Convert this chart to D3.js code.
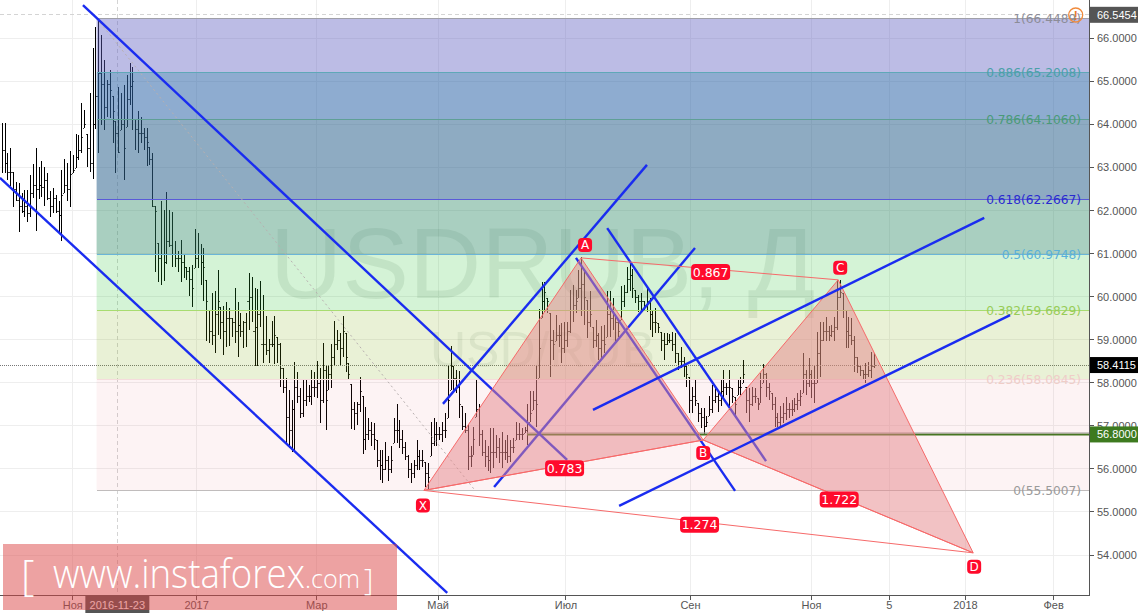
<!DOCTYPE html>
<html><head><meta charset="utf-8">
<style>html,body{margin:0;padding:0;background:#fff;overflow:hidden}svg{display:block}</style>
<script src="https://cdn.jsdelivr.net/npm/d3@7"></script></head><body>
<div id="c"></div>
<script>
const highs=[64.03,64.03,63.33,63.45,62.89,62.66,62.63,62.40,62.48,62.48,62.83,63.08,63.45,63.00,63.14,63.02,62.87,62.46,62.52,62.36,62.21,62.94,63.20,63.10,63.38,63.29,63.78,63.76,64.49,64.34,63.78,64.72,65.77,66.26,66.46,66.08,65.50,65.03,65.26,64.65,64.09,64.86,64.72,64.92,65.15,65.42,65.34,64.12,64.30,64.18,63.91,63.91,63.48,63.33,
62.11,61.24,62.22,62.01,62.42,62.01,61.97,61.29,61.05,61.32,60.97,60.70,60.70,60.74,61.57,61.47,61.22,61.12,60.39,59.69,60.08,60.12,60.62,59.77,59.78,59.87,59.73,59.50,60.20,59.87,59.61,59.44,59.63,60.54,60.45,60.20,60.17,60.37,60.04,59.55,59.02,59.44,59.55,59.06,58.92,58.34,58.11,57.83,57.60,58.48,58.26,57.87,
58.07,58.07,57.95,58.30,58.26,58.51,58.34,58.93,58.38,58.38,58.89,59.44,59.23,59.15,59.55,59.15,58.45,57.97,57.56,57.56,58.14,57.70,57.43,57.18,57.10,57.06,56.66,56.44,56.44,56.63,56.30,56.52,57.18,57.50,57.14,56.90,56.63,56.33,56.13,56.21,56.66,56.44,56.44,56.17,56.13,57.10,57.19,57.10,56.98,57.08,57.29,58.40,58.85,58.38,58.30,58.28,57.45,57.29,57.02,56.52,56.98,58.07,57.50,56.90,56.67,56.52,56.94,56.94,56.79,56.71,56.86,56.67,56.79,56.67,56.71,57.08,57.06,56.94,56.98,57.50,57.81,57.81,58.40,59.71,60.35,60.35,59.96,59.61,59.23,59.58,59.34,59.38,59.42,59.42,60.16,60.27,60.16,60.62,60.91,60.62,59.92,60.12,59.30,59.46,59.15,
59.31,59.33,60.14,60.13,59.96,59.60,59.46,60.25,60.27,60.70,60.81,60.64,60.16,60.04,60.08,59.91,60.20,59.96,59.69,59.73,59.38,59.17,59.15,59.15,59.13,59.19,59.15,58.69,58.83,58.61,58.38,58.14,57.90,58.07,57.53,57.41,57.41,57.22,57.70,57.95,57.91,57.83,58.07,58.30,57.99,58.30,57.87,57.68,58.07,58.14,58.52,57.91,57.87,57.91,57.87,57.64,58.22,58.43,58.22,57.99,57.76,57.68,57.29,57.45,57.53,57.66,57.53,57.60,57.64,57.76,57.83,58.69,58.30,58.57,58.30,58.42,59.19,59.42,59.40,59.52,59.32,59.34,59.52,60.39,60.39,60.08,59.69,59.52,59.50,59.09,58.61,58.42,58.30,58.45,58.49,58.72,58.69];
const lows=[62.87,62.87,62.71,62.56,62.08,62.21,61.51,61.94,61.86,61.74,61.86,62.28,61.53,62.26,62.32,62.11,62.25,61.86,61.94,61.95,61.51,61.30,62.40,62.21,62.09,62.87,62.98,63.17,63.33,63.91,63.00,62.90,62.73,63.89,63.33,63.99,63.86,64.18,64.16,63.56,62.87,63.33,63.86,62.71,63.95,64.45,63.87,63.41,63.33,63.56,63.41,63.04,63.06,62.09,
60.58,60.35,60.26,60.37,60.76,61.16,60.68,60.68,60.58,60.33,60.43,60.39,60.02,59.77,60.66,60.66,60.27,59.89,58.98,58.93,58.88,58.70,59.11,59.01,58.65,58.84,58.86,59.07,58.92,58.61,59.06,58.80,58.84,59.23,59.42,58.38,58.38,59.30,58.45,58.65,58.47,58.83,58.43,58.45,57.91,57.76,56.60,56.48,56.40,56.40,57.52,57.18,
57.20,57.46,57.56,57.49,57.68,57.64,57.06,57.52,56.90,57.83,57.87,58.38,58.76,58.38,58.61,58.26,58.07,56.92,56.90,57.02,57.33,56.35,56.44,56.67,56.52,56.44,56.05,55.74,55.67,55.98,55.71,55.90,56.60,56.61,56.48,56.35,56.21,55.78,55.67,55.78,55.98,55.98,56.05,55.57,55.51,56.29,56.52,56.52,56.67,56.63,56.71,57.18,57.83,57.79,57.76,57.19,56.90,56.83,55.98,56.05,56.33,57.21,56.52,56.29,56.05,55.94,55.91,56.01,56.25,56.13,56.01,56.21,56.13,56.17,56.36,56.67,56.67,56.67,56.83,56.56,57.10,57.37,56.98,58.10,59.50,59.65,59.61,58.13,58.53,58.96,58.84,58.45,58.69,58.84,59.15,59.42,59.61,59.96,59.54,59.34,59.03,59.30,58.80,58.84,58.53,
58.53,58.69,59.07,59.07,59.23,58.96,59.07,59.46,59.77,60.08,60.12,59.96,59.85,59.65,59.69,59.69,59.65,59.23,59.07,59.15,59.15,58.73,58.53,58.88,58.92,58.73,58.45,58.30,58.34,58.13,57.91,57.29,57.29,57.45,57.10,56.94,56.81,56.98,57.22,57.29,57.53,57.33,57.45,57.64,57.72,57.37,57.53,57.18,57.72,57.72,57.99,57.29,57.10,57.45,57.53,57.37,57.53,57.99,57.68,57.60,57.37,56.98,56.98,56.98,57.06,57.14,57.18,57.22,57.33,57.37,57.45,57.76,57.72,57.91,57.64,57.53,57.99,58.14,58.96,58.96,58.96,59.07,58.96,59.23,59.96,59.50,58.80,58.80,58.88,58.24,58.22,58.16,58.07,57.99,58.14,58.11,58.34];
const closes=[63.4,63.1,62.9,62.9,62.5,62.25,62.1,62.0,62.1,61.95,62.4,62.6,62.5,62.6,62.55,62.7,62.3,62.1,62.3,62.0,61.9,62.35,62.6,62.5,62.85,62.95,63.25,63.4,63.7,64.0,63.45,63.1,64.0,64.65,65.2,64.95,64.4,64.95,64.8,64.3,63.8,63.35,64.0,63.45,64.6,64.9,65.0,63.9,63.8,63.8,63.7,63.6,63.2,62.1,
62.0,60.9,61.0,60.8,61.3,61.2,61.0,60.9,60.9,60.8,60.7,60.6,60.4,60.2,60.9,61.0,60.8,60.7,59.9,59.2,59.1,59.6,59.9,59.4,59.2,59.5,59.5,59.4,59.2,59.35,59.2,59.4,59.9,60.0,59.2,59.3,59.6,58.9,58.9,58.75,58.9,58.9,59.1,58.9,58.35,57.9,57.2,56.9,57.4,57.9,57.7,57.3,
57.6,57.7,57.7,57.9,57.9,58.0,57.6,58.3,57.6,58.2,58.6,58.9,59.0,58.8,59.2,58.6,58.2,57.4,57.3,57.5,57.8,56.7,56.8,56.9,56.8,56.7,56.2,56.1,56.0,56.2,56.0,56.2,56.9,56.9,56.7,56.5,56.3,56.0,55.9,56.1,56.3,56.2,56.2,55.9,55.8,56.6,56.8,56.8,56.8,56.9,56.9,57.6,58.4,58.1,57.9,57.5,57.0,56.9,56.3,56.3,56.7,57.4,56.8,56.4,56.3,56.2,56.4,56.4,56.5,56.4,56.4,56.4,56.3,56.5,56.5,56.8,56.8,56.8,56.9,56.8,57.3,57.6,57.5,58.8,59.9,60.1,59.9,59.0,58.9,59.1,59.1,58.8,59.0,59.2,59.7,59.8,59.9,60.2,60.3,60.0,59.4,59.6,59.0,59.1,58.8,
59.0,58.9,59.6,59.5,59.6,59.4,59.2,59.9,60.1,60.4,60.5,60.2,60.0,59.9,59.9,59.8,59.9,59.6,59.4,59.4,59.3,59.0,58.9,59.0,59.0,58.9,58.7,58.5,58.5,58.4,58.2,57.6,57.7,57.6,57.3,57.2,57.0,57.1,57.4,57.6,57.7,57.6,57.8,57.9,57.9,57.9,57.7,57.5,57.9,57.9,58.2,57.6,57.5,57.7,57.7,57.5,57.9,58.2,57.9,57.8,57.5,57.2,57.1,57.2,57.3,57.4,57.4,57.4,57.5,57.6,57.7,58.2,58.0,58.2,58.0,58.0,58.7,59.0,59.2,59.2,59.1,59.2,59.3,60.0,60.1,59.7,59.2,59.1,59.0,58.6,58.4,58.3,58.2,58.2,58.3,58.4,58.41];

const yTicks=[54,55,56,57,58,59,60,61,62,63,64,65,66];
const xTickBars=[25,68.6,110.9,153.6,198.6,242.4,285,312.4,339.2,370.2];
const xTickLabels=["Ноя","2017","Мар","Май","Июл","Сен","Ноя","5","2018","Фев"];
const crossBar=40.7, crossPrice=66.5454, crossDate="2016-11-23";
const lastPrice=58.4115, levelPrice=56.8;

const fibRatios=["1","0.886","0.786","0.618","0.5","0.382","0.236","0"];
const fibPrices=[66.4489,65.2008,64.1060,62.2667,60.9748,59.6829,58.0845,55.5007];
const fibFills=["rgba(96,96,193,.42)","rgba(50,104,170,.55)","rgba(50,102,144,.55)","rgba(50,140,105,.42)","rgba(40,195,50,.2)","rgba(126,173,14,.17)","rgba(222,55,72,.06)"];
const fibLines=["#a0a0a8","#5fa8b8","#5f9f96","#5a5ad8","#6bb5d8","#a8dc70","#f5dcdc","#c0bcbc"];
const fibText=["#8c8c98","#4aa0a8","#4a9a78","#2a2ad0","#5ab0d8","#98cc58","#efcdc8","#9a9a9a"];
const fibLeftBar=33.4, fibTrend=[[33.6,66.45],[166.6,55.5]];

const patternNames=["X","A","B","C","D"];
const patternBars=[148.6,203.9,246.9,294.4,341.9];
const patternPrices=[55.5,60.9,56.67,60.39,54.05];
const ratioLinks=[[0,2,"0.783"],[1,3,"0.867"],[2,4,"1.722"],[0,4,"1.274"]];

const trendBarsUnder=[[28.6,199],[-0.6,156.8],[155.3,227.1],[173.3,244],[202.1,258.1],[213.1,269]];
const trendPricesUnder=[[66.77,56.21],[62.76,53.12],[57.51,63.06],[55.58,61.13],[60.9,55.49],[61.59,56.18]];
const trendBarsOver=[[208.1,345.8],[217.3,354.9]];
const trendPricesOver=[[57.37,61.83],[55.14,59.57]];

const W=1138,H=613,axisX=1089.5,axisY=595.5;
const x=d3.scaleLinear().domain([0,307]).range([1.7,874]);
const y=d3.scaleLinear().domain([66,54]).range([38.3,555]);
const svg=d3.select("#c").append("svg").attr("width",W).attr("height",H);
const AX='"Liberation Sans",Arial,sans-serif', DV='"DejaVu Sans",sans-serif';

// grid
const g=svg.append("g").attr("shape-rendering","crispEdges");
g.selectAll(".gy").data(yTicks).join("line").attr("x1",0).attr("x2",axisX).attr("y1",d=>y(d)).attr("y2",d=>y(d)).attr("stroke","#eeeeee");
g.selectAll(".gx").data(xTickBars).join("line").attr("x1",d=>x(d)).attr("x2",d=>x(d)).attr("y1",0).attr("y2",axisY).attr("stroke","#eeeeee");

// crosshair
svg.append("line").attr("x1",x(crossBar)).attr("x2",x(crossBar)).attr("y1",0).attr("y2",axisY).attr("stroke","#d4d4d4").attr("stroke-dasharray","4 3").attr("shape-rendering","crispEdges");
svg.append("line").attr("x1",0).attr("x2",axisX).attr("y1",y(crossPrice)).attr("y2",y(crossPrice)).attr("stroke","#d4d4d4").attr("stroke-dasharray","4 3").attr("shape-rendering","crispEdges");

// watermarks
svg.append("text").attr("x",270).attr("y",298).attr("font-family",AX).attr("font-size",100).attr("fill","rgba(0,40,10,.085)").text("USDRUB, Д");
svg.append("text").attr("x",430).attr("y",367).attr("font-family",AX).attr("font-size",50).attr("fill","rgba(0,40,10,.07)").text("USD/RUB");

// OHLC bars
const bars=svg.append("g").attr("stroke","#000").attr("shape-rendering","crispEdges");
highs.forEach((h,i)=>{
  const n=Math.round(x(i)), px=n+.5, c=closes[i];
  bars.append("line").attr("x1",px).attr("x2",px).attr("y1",y(h)).attr("y2",y(lows[i]));
  const cy=Math.round(y(c))+.5;
  bars.append("line").attr("x1",n+1).attr("x2",n+2).attr("y1",cy).attr("y2",cy).attr("stroke-opacity",.75);
  if(i>0){const o=Math.min(h,Math.max(lows[i],closes[i-1])), oy=Math.round(y(o))+.5;
    bars.append("line").attr("x1",n-1).attr("x2",n).attr("y1",oy).attr("y2",oy).attr("stroke-opacity",.75);}
});

// horizontal price lines
svg.append("line").attr("x1",0).attr("x2",axisX).attr("y1",y(lastPrice)).attr("y2",y(lastPrice)).attr("stroke","#777").attr("stroke-dasharray","1 1").attr("shape-rendering","crispEdges");
svg.append("line").attr("x1",527).attr("x2",axisX).attr("y1",y(levelPrice)).attr("y2",y(levelPrice)).attr("stroke","#3d7a1f").attr("stroke-width",2);
svg.append("line").attr("x1",527).attr("x2",axisX).attr("y1",y(levelPrice)-1.5).attr("y2",y(levelPrice)-1.5).attr("stroke","#aaa").attr("stroke-width",1);

// fib
const fl=x(fibLeftBar);
const fib=svg.append("g");
fibFills.forEach((c,i)=>fib.append("rect").attr("x",fl).attr("width",axisX-fl).attr("y",y(fibPrices[i])).attr("height",y(fibPrices[i+1])-y(fibPrices[i])).attr("fill",c));
fibPrices.forEach((p,i)=>fib.append("line").attr("x1",fl).attr("x2",axisX).attr("y1",y(p)).attr("y2",y(p)).attr("stroke",fibLines[i]).attr("shape-rendering","crispEdges"));
svg.append("line").attr("x1",x(fibTrend[0][0])).attr("y1",y(fibTrend[0][1])).attr("x2",x(fibTrend[1][0])).attr("y2",y(fibTrend[1][1])).attr("stroke","#b8b0b0").attr("stroke-dasharray","2 3");
fibPrices.forEach((p,i)=>fib.append("text").attr("x",1081).attr("y",y(p)+4.5).attr("text-anchor","end").attr("font-family",DV).attr("font-size",12.2).attr("fill",fibText[i]).text(fibRatios[i]+"("+p.toFixed(4)+")"));

// blue trend lines
const blue=(bs,ps)=>bs.forEach((b,i)=>svg.append("line").attr("x1",x(b[0])).attr("y1",y(ps[i][0])).attr("x2",x(b[1])).attr("y2",y(ps[i][1])).attr("stroke","#1a2cf0").attr("stroke-width",2.4));
blue(trendBarsUnder,trendPricesUnder);

// harmonic pattern
const P=patternBars.map((b,i)=>[x(b),y(patternPrices[i])]);
const tri=d3.line();
[[0,1,2],[2,3,4]].forEach(t=>svg.append("path").attr("d",tri(t.map(k=>P[k]))+"Z").attr("fill","rgba(229,133,137,.5)").attr("stroke","#f66a6a"));
ratioLinks.forEach(l=>svg.append("line").attr("x1",P[l[0]][0]).attr("y1",P[l[0]][1]).attr("x2",P[l[1]][0]).attr("y2",P[l[1]][1]).attr("stroke","#f66a6a"));
blue(trendBarsOver,trendPricesOver);

// labels
function tag(cx,cy,w,h,t,fs){
  svg.append("rect").attr("x",cx-w/2).attr("y",cy-h/2).attr("width",w).attr("height",h).attr("rx",4).attr("fill","#ff0a2c");
  svg.append("text").attr("x",cx).attr("y",cy+fs*.37).attr("text-anchor","middle").attr("font-family",DV).attr("font-size",fs).attr("fill","#fff").text(t);
}
ratioLinks.forEach(l=>tag((P[l[0]][0]+P[l[1]][0])/2+1,(P[l[0]][1]+P[l[1]][1])/2+3,39,16,l[2],12.5));
const vOff=[[-1,15],[4,-13],[0,13],[2,-12],[1,14]];
patternNames.forEach((n,i)=>tag(P[i][0]+vOff[i][0],P[i][1]+vOff[i][1],14,14,n,12));

// axes
svg.append("line").attr("x1",axisX).attr("x2",axisX).attr("y1",0).attr("y2",axisY+.5).attr("stroke","#555").attr("shape-rendering","crispEdges");
svg.append("line").attr("x1",0).attr("x2",axisX).attr("y1",axisY).attr("y2",axisY).attr("stroke","#555").attr("shape-rendering","crispEdges");
yTicks.forEach(t=>{
  svg.append("line").attr("x1",axisX).attr("x2",axisX+4).attr("y1",y(t)).attr("y2",y(t)).attr("stroke","#555").attr("shape-rendering","crispEdges");
  svg.append("text").attr("x",1097).attr("y",y(t)+4).attr("font-family",AX).attr("font-size",11).attr("fill","#555").text(t.toFixed(4));
});
xTickBars.forEach((b,i)=>{
  svg.append("line").attr("x1",x(b)).attr("x2",x(b)).attr("y1",axisY).attr("y2",axisY+4).attr("stroke","#555").attr("shape-rendering","crispEdges");
  svg.append("text").attr("x",x(b)).attr("y",609).attr("text-anchor","middle").attr("font-family",AX).attr("font-size",11).attr("fill","#555").text(xTickLabels[i]);
});
function priceTag(p,bg){
  svg.append("rect").attr("x",axisX+.5).attr("y",y(p)-8).attr("width",W-axisX).attr("height",16).attr("fill",bg);
  svg.append("text").attr("x",1097).attr("y",y(p)+4).attr("font-family",AX).attr("font-size",11).attr("fill","#fff").text(p.toFixed(4));
}
priceTag(crossPrice,"#555");priceTag(lastPrice,"#000");priceTag(levelPrice,"#3d7a1f");
svg.append("rect").attr("x",x(crossBar)-32).attr("y",axisY).attr("width",64).attr("height",H-axisY).attr("fill","#555");
svg.append("text").attr("x",x(crossBar)).attr("y",609).attr("text-anchor","middle").attr("font-family",AX).attr("font-size",11).attr("fill","#fff").text(crossDate);

// alert icon
svg.append("circle").attr("cx",1075.7).attr("cy",15).attr("r",7).attr("fill","none").attr("stroke","#f08a3c").attr("stroke-width",1.3);
svg.append("text").attr("x",1075.7).attr("y",19.5).attr("text-anchor","middle").attr("font-family",AX).attr("font-weight","bold").attr("font-size",12).attr("fill","#e8792c").text("!");

// banner
svg.append("rect").attr("x",3).attr("y",544).attr("width",394).attr("height",66).attr("fill","rgba(220,70,70,.5)");
const OS='"Open Sans",sans-serif';
const bt=(tx,py,fs,t,len)=>{const s=svg.append("text").attr("x",tx).attr("y",py).attr("font-family",OS).attr("font-weight",300).attr("font-size",fs).attr("fill","#fff").text(t);
  if(len)s.attr("textLength",len).attr("lengthAdjust","spacingAndGlyphs");};
bt(21,590,42,"[");bt(53,588,41,"www.instaforex",252);bt(305,588,25,".com",55);bt(364,590,29,"]");
</script></body></html>
